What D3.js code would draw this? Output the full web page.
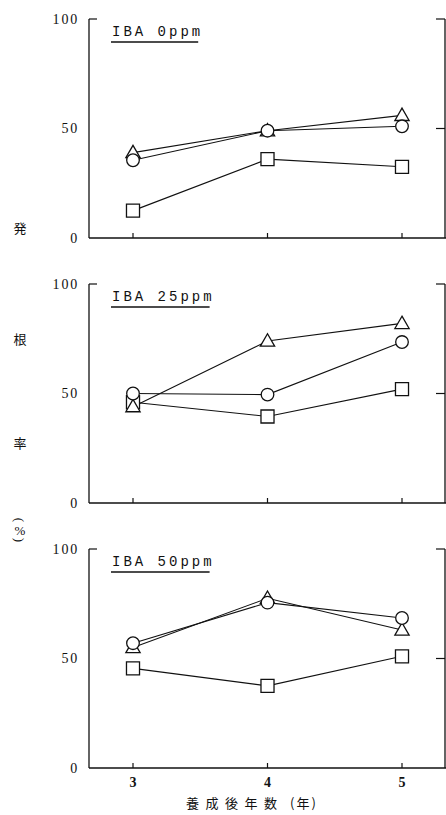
<!DOCTYPE html>
<html>
<head>
<meta charset="utf-8">
<script src="https://cdn.jsdelivr.net/npm/d3@7"></script>
<style>
  html, body { margin: 0; padding: 0; background: #fff; }
  svg { display: block; }
</style>
</head>
<body>
<svg id="chart" width="446" height="815"></svg>
<script>
// ---- data ----
const years = [3, 4, 5];
const panelTitles = ["IBA 0ppm", "IBA 25ppm", "IBA 50ppm"];
const yTicks = [0, 50, 100];
const xTickLabels = ["3", "4", "5"];
const xTitle = "養成後年数";
const xTitleUnit = "(年)";
const yLabelChars = ["発", "根", "率"];

const triangle0 = [39, 49, 56];
const circle0   = [35.5, 49, 51];
const square0   = [12.5, 36, 32.5];

const triangle25 = [44, 74, 82];
const circle25   = [50, 49.5, 73.5];
const square25   = [46, 39.5, 52];

const triangle50 = [55, 77.5, 63];
const circle50   = [57, 75.5, 68.5];
const square50   = [45.5, 37.5, 51];

const panelData = [
  {title: panelTitles[0], tri: triangle0,  cir: circle0,  sq: square0},
  {title: panelTitles[1], tri: triangle25, cir: circle25, sq: square25},
  {title: panelTitles[2], tri: triangle50, cir: circle50, sq: square50}
];

// ---- layout ----
const svg = d3.select("#chart");
const ink = "#111";
const axisLeft = 89, axisRight = 445;
const panelTops = [19, 284, 549];
const panelH = 219;

const x = d3.scaleLinear().domain([3, 5]).range([133, 402]);

const sym = {
  tri: d3.symbol().type(d3.symbolTriangle).size(88),
  cir: d3.symbol().type(d3.symbolCircle).size(125),
  sq:  d3.symbol().type(d3.symbolSquare).size(170)
};

panelData.forEach((p, i) => {
  const top = panelTops[i];
  const y = d3.scaleLinear().domain([0, 100]).range([top + panelH, top]);
  const g = svg.append("g");

  // axes frame
  g.append("line").attr("x1", axisLeft).attr("x2", axisLeft)
    .attr("y1", y(100)).attr("y2", y(0)).attr("stroke", ink).attr("stroke-width", 1.3);
  g.append("line").attr("x1", axisLeft).attr("x2", axisLeft + 8)
    .attr("y1", y(100)).attr("y2", y(100)).attr("stroke", ink).attr("stroke-width", 1.2);
  g.append("line").attr("x1", axisLeft).attr("x2", 446)
    .attr("y1", y(0)).attr("y2", y(0)).attr("stroke", ink).attr("stroke-width", 1.3);
  g.append("line").attr("x1", axisRight).attr("x2", axisRight)
    .attr("y1", y(100)).attr("y2", y(0)).attr("stroke", ink).attr("stroke-width", 1.3);
  [100, 50].forEach(v => {
    g.append("line").attr("x1", axisRight - 9).attr("x2", axisRight)
      .attr("y1", y(v)).attr("y2", y(v)).attr("stroke", ink).attr("stroke-width", 1.2);
  });

  // y tick labels
  g.selectAll("text.yt").data(yTicks).enter().append("text")
    .attr("class", "yt")
    .attr("x", 79).attr("y", d => y(d)).attr("dy", "0.35em")
    .attr("text-anchor", "end")
    .attr("font-family", "Liberation Serif, serif")
    .attr("font-size", 14).attr("letter-spacing", 1.8)
    .attr("fill", ink)
    .text(d => d);

  // x ticks (inward)
  g.selectAll("line.xt").data(years).enter().append("line")
    .attr("x1", d => x(d)).attr("x2", d => x(d))
    .attr("y1", y(0)).attr("y2", y(0) - 5)
    .attr("stroke", ink).attr("stroke-width", 1.2);

  // title
  g.append("text")
    .attr("x", 112).attr("y", top + 17)
    .attr("font-family", "Liberation Mono, monospace")
    .attr("font-size", 14).attr("letter-spacing", 3)
    .attr("fill", ink)
    .text(p.title);
  const titleW = p.title.length * 11.4 - 4;
  g.append("line").attr("x1", 111).attr("x2", 111 + titleW)
    .attr("y1", top + 23).attr("y2", top + 23)
    .attr("stroke", ink).attr("stroke-width", 1.3);

  // series lines + markers
  const line = d3.line().x((d, j) => x(years[j])).y(d => y(d));
  ["sq", "tri", "cir"].forEach(k => {
    g.append("path").attr("d", line(p[k]))
      .attr("fill", "none").attr("stroke", ink).attr("stroke-width", 1.1);
  });
  ["sq", "tri", "cir"].forEach(k => {
    g.selectAll("path.m" + k).data(p[k]).enter().append("path")
      .attr("class", "m" + k)
      .attr("transform", (d, j) => `translate(${x(years[j])},${y(d) + (k === "tri" ? 1 : 0)})`)
      .attr("d", sym[k]())
      .attr("fill", "#fff").attr("stroke", ink).attr("stroke-width", 1.3);
  });

  // x tick labels only on the last panel
  if (i === 2) {
    g.selectAll("text.xl").data(years).enter().append("text")
      .attr("x", d => x(d)).attr("y", y(0) + 19)
      .attr("text-anchor", "middle")
      .attr("font-family", "Liberation Serif, serif")
      .attr("font-size", 14).attr("font-weight", "bold")
      .attr("fill", ink)
      .text((d, j) => xTickLabels[j]);
  }
});

// x axis title
svg.append("text")
  .attr("x", 186).attr("y", 808)
  .attr("font-family", "Noto Sans CJK JP, sans-serif")
  .attr("font-size", 13).attr("letter-spacing", 6.5)
  .attr("fill", ink)
  .text(xTitle);
svg.append("text")
  .attr("x", 290).attr("y", 808)
  .attr("font-family", "Noto Sans CJK JP, sans-serif")
  .attr("font-size", 13).attr("letter-spacing", 2)
  .attr("fill", ink)
  .text(xTitleUnit);

// y axis label (vertical stacked characters)
const yLabX = 20;
const yLabYs = [228, 339, 443];
yLabelChars.forEach((c, i) => {
  svg.append("text").attr("x", yLabX).attr("y", yLabYs[i]).attr("dy", "0.35em")
    .attr("text-anchor", "middle")
    .attr("font-family", "Noto Sans CJK JP, sans-serif")
    .attr("font-size", 13).attr("fill", ink)
    .text(c);
});
svg.append("text").attr("transform", `translate(${yLabX},520) rotate(90)`)
  .attr("text-anchor", "middle").attr("dy", "0.35em")
  .attr("font-family", "Liberation Serif, serif").attr("font-size", 13).attr("fill", ink)
  .text("(");
svg.append("text").attr("x", yLabX).attr("y", 530).attr("dy", "0.35em")
  .attr("text-anchor", "middle")
  .attr("font-family", "Liberation Serif, serif").attr("font-size", 13).attr("fill", ink)
  .text("%");
svg.append("text").attr("transform", `translate(${yLabX},540) rotate(90)`)
  .attr("text-anchor", "middle").attr("dy", "0.35em")
  .attr("font-family", "Liberation Serif, serif").attr("font-size", 13).attr("fill", ink)
  .text(")");
</script>
</body>
</html>
